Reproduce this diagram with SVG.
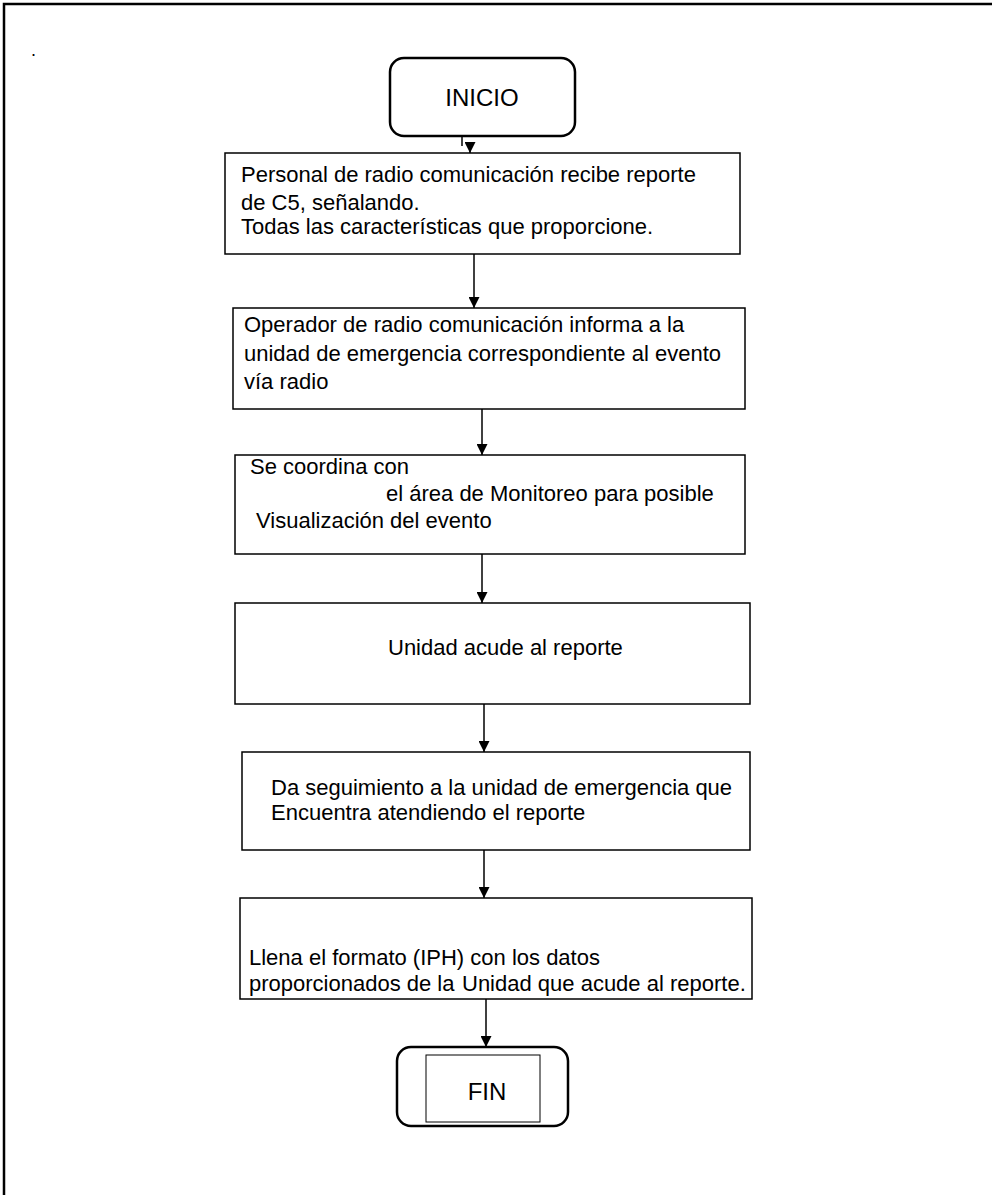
<svg xmlns="http://www.w3.org/2000/svg" width="992" height="1195" viewBox="0 0 992 1195">
<defs>
<marker id="arr" markerWidth="11" markerHeight="11" refX="11" refY="5.5" orient="auto" markerUnits="userSpaceOnUse"><path d="M0,0 L11,5.5 L0,11 Z" fill="#000"/></marker>
</defs>
<style>
.box{fill:#fff;stroke:#000;stroke-width:1.5}
.term{fill:#fff;stroke:#000;stroke-width:2.5}
.t{font-family:"Liberation Sans",Arial,sans-serif;font-size:22px;fill:#000}
.big{font-family:"Liberation Sans",Arial,sans-serif;font-size:24px;fill:#000}
.c{stroke:#000;stroke-width:1.5;fill:none;marker-end:url(#arr)}
</style>
<rect width="992" height="1195" fill="#fff"/>
<path d="M4,1195 L4,4 L992,4" fill="none" stroke="#000" stroke-width="2.5"/>
<text class="t" x="31" y="56" style="font-size:18px">.</text>
<g id="inicio">
<rect class="term" x="390" y="58" width="185" height="78" rx="14"/>
<text class="big" x="482" y="106" text-anchor="middle">INICIO</text>
</g>
<g id="n1">
<rect class="box" x="225" y="153" width="515" height="101"/>
<text class="t" x="241" y="182">Personal de radio comunicación recibe reporte</text>
<text class="t" x="241" y="210">de C5, señalando.</text>
<text class="t" x="241" y="234">Todas las características que proporcione.</text>
</g>
<g id="n2">
<rect class="box" x="233" y="308" width="512" height="101"/>
<text class="t" x="244" y="332">Operador de radio comunicación informa a la</text>
<text class="t" x="244" y="361">unidad de emergencia correspondiente al evento</text>
<text class="t" x="244" y="389">vía radio</text>
</g>
<g id="n3">
<rect class="box" x="235" y="455" width="510" height="99"/>
<text class="t" x="250" y="474">Se coordina con</text>
<text class="t" x="386" y="501">el área de Monitoreo para posible</text>
<text class="t" x="256" y="528">Visualización del evento</text>
</g>
<g id="n4">
<rect class="box" x="235" y="603" width="515" height="101"/>
<text class="t" x="388" y="655">Unidad acude al reporte</text>
</g>
<g id="n5">
<rect class="box" x="242" y="752" width="508" height="98"/>
<text class="t" x="271" y="795">Da seguimiento a la unidad de emergencia que</text>
<text class="t" x="271" y="820">Encuentra atendiendo el reporte</text>
</g>
<g id="n6">
<rect class="box" x="240" y="898" width="512" height="101"/>
<text class="t" x="249" y="965">Llena el formato (IPH) con los datos</text>
<text class="t" x="249" y="991">proporcionados de la</text>
<text class="t" x="462" y="991">Unidad que acude al reporte.</text>
</g>
<g id="fin">
<rect class="term" x="397" y="1047" width="171" height="79" rx="14"/>
<rect x="426" y="1055" width="114" height="67" fill="none" stroke="#000" stroke-width="1"/>
<text class="big" x="487" y="1100" text-anchor="middle">FIN</text>
</g>
<g id="connectors">
<path d="M462,136 L462,146" stroke="#000" stroke-width="1.5" fill="none"/>
<path class="c" d="M470,142 L470,153"/>
<path class="c" d="M474,254 L474,308"/>
<path class="c" d="M482,409 L482,455"/>
<path class="c" d="M482,554 L482,603"/>
<path class="c" d="M484,704 L484,752"/>
<path class="c" d="M484,850 L484,898"/>
<path class="c" d="M486,999 L486,1047"/>
</g>
</svg>
